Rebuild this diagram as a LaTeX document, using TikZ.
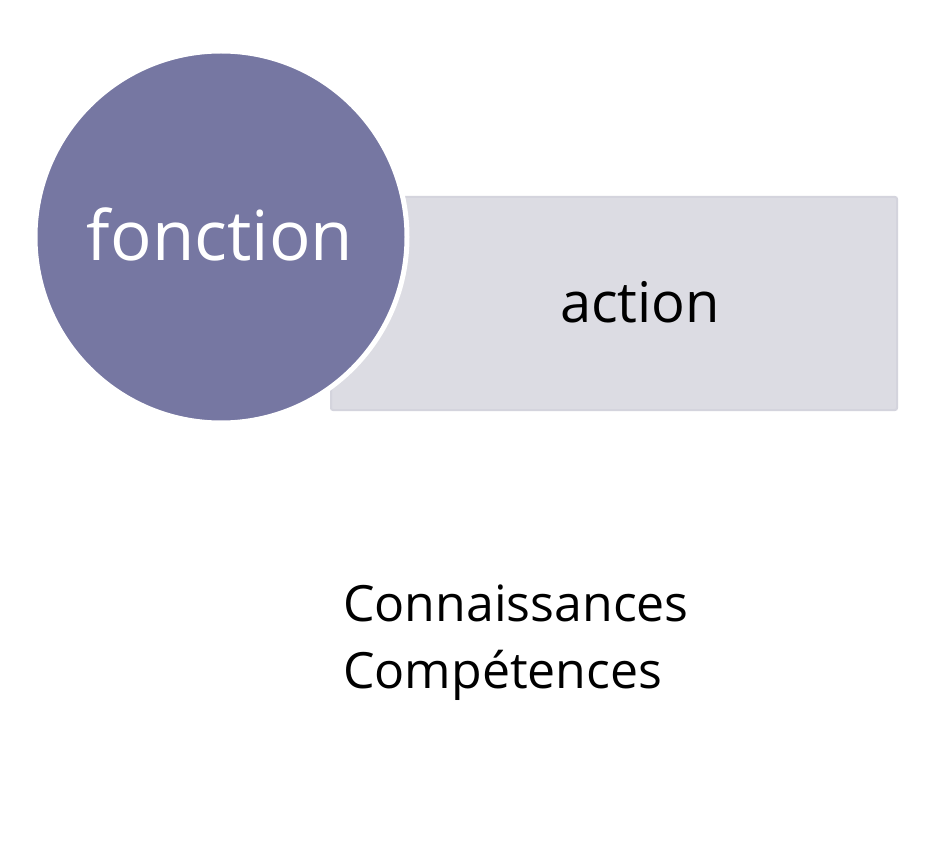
\documentclass[tikz,border=0pt]{standalone}
\usepackage{fontspec}
\setmainfont{Open Sans}
\definecolor{circ}{HTML}{7677A2}
\definecolor{boxfill}{HTML}{DCDCE3}
\definecolor{boxedge}{HTML}{D4D4DD}
\tikzset{
  box/.style={fill=boxfill, draw=boxedge, line width=2pt, rounded corners=2pt},
  disc/.style={circle, fill=circ, draw=white, line width=5pt, minimum size=372pt, inner sep=0pt},
}
\begin{document}
\begin{tikzpicture}[x=1pt,y=-1pt]
\useasboundingbox (0,0) rectangle (948,842);
\fill[white] (0,0) rectangle (948,842);
\draw[box] (331,197) rectangle (897,410);
\node[disc] (f) at (221,237) {};
\node[text=white, font=\fontsize{69}{74}\selectfont] (ft) at (220,234) {fonction};
\node[text=black, font=\fontsize{56}{62}\selectfont] (a) at (640,302) {action};
\node[text=black, anchor=north west, align=left, inner sep=0pt, font=\fontsize{50}{67}\selectfont] (c) at (343,585) {Connaissances\\Compétences};
\end{tikzpicture}
\end{document}
